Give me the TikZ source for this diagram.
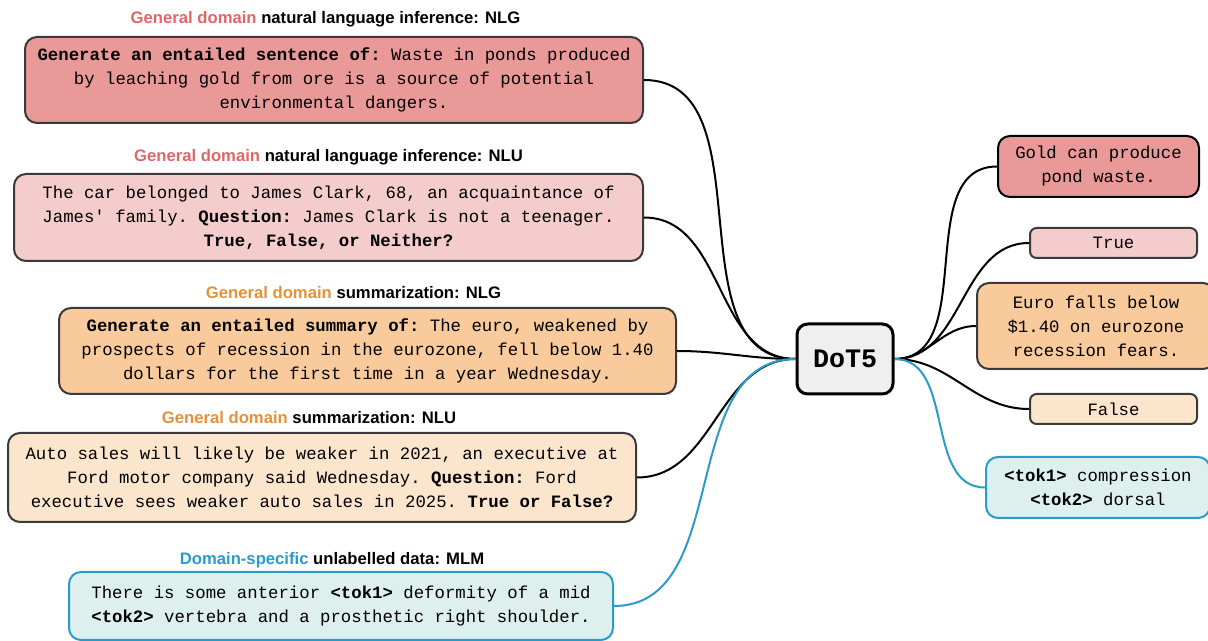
\documentclass[tikz,border=0pt]{standalone}
\usepackage{fontspec}
\setmainfont{Liberation Sans}
\setmonofont{Liberation Mono}
\definecolor{redA}{HTML}{EA9999}
\definecolor{redB}{HTML}{F4CCCC}
\definecolor{orA}{HTML}{F9CB9C}
\definecolor{orB}{HTML}{FCE5CD}
\definecolor{teal}{HTML}{DDF0EE}
\definecolor{blueln}{HTML}{2A9BCB}
\definecolor{redtx}{HTML}{E06666}
\definecolor{ortx}{HTML}{E69138}
\definecolor{edge}{HTML}{3A3A3A}
\definecolor{dotfill}{HTML}{EFEFEF}
\tikzset{
  box/.style={draw=edge, line width=1.5pt, rounded corners=9pt, inner sep=0pt, align=center,
    font=\fontsize{13}{18}\selectfont\ttfamily},
  sbox/.style={box, rounded corners=5pt},
  hdr/.style={font=\fontsize{12.5}{14}\selectfont\bfseries, inner sep=0pt},
  conn/.style={line width=1.5pt, draw=black},
  bconn/.style={line width=1.5pt, draw=blueln},
}
\begin{document}
\begin{tikzpicture}[x=0.75pt,y=-0.75pt]
\useasboundingbox (0,0) rectangle (1208,641);
% headers
\node[hdr] (h1) at (325.5,19) {\textcolor{redtx}{General domain} natural language inference: NLG};
\node[hdr] (h2) at (328.5,157) {\textcolor{redtx}{General domain} natural language inference: NLU};
\node[hdr] (h3) at (353.5,293) {\textcolor{ortx}{General domain} summarization: NLG};
\node[hdr] (h4) at (309,418) {\textcolor{ortx}{General domain} summarization: NLU};
\node[hdr] (h5) at (332,560) {\textcolor{blueln}{Domain-specific} unlabelled data: MLM};
% left boxes
\node[box, fill=redA, minimum width=463.5pt, minimum height=64.5pt] (b1) at (334,80)
  {\textbf{Generate an entailed sentence of:} Waste in ponds produced\\by leaching gold from ore is a source of potential\\environmental dangers.};
\node[box, fill=redB, minimum width=471.75pt, minimum height=65.25pt] (b2) at (328.5,217.5)
  {The car belonged to James Clark, 68, an acquaintance of\\James' family. \textbf{Question:} James Clark is not a teenager.\\\textbf{True, False, or Neither?}};
\node[box, fill=orA, minimum width=462.75pt, minimum height=64.5pt] (b3) at (367.5,351)
  {\textbf{Generate an entailed summary of:} The euro, weakened by\\prospects of recession in the eurozone, fell below 1.40\\dollars for the first time in a year Wednesday.};
\node[box, fill=orB, minimum width=471pt, minimum height=66.75pt] (b4) at (322,477.5)
  {Auto sales will likely be weaker in 2021, an executive at\\Ford motor company said Wednesday. \textbf{Question:} Ford\\executive sees weaker auto sales in 2025. \textbf{True or False?}};
\node[box, draw=blueln, fill=teal, minimum width=408pt, minimum height=51pt] (b5) at (341,606)
  {There is some anterior \textbf{<tok1>} deformity of a mid\\\textbf{<tok2>} vertebra and a prosthetic right shoulder.};
% center
\node[box, draw=black, line width=2.25pt, rounded corners=8pt, fill=dotfill, minimum width=72pt, minimum height=52.5pt,
  font=\fontsize{20}{22}\selectfont\ttfamily\bfseries] (dot) at (845,359) {DoT5};
% right boxes
\node[box, draw=black, fill=redA, minimum width=150.75pt, minimum height=45.75pt] (r1) at (1098.5,166.5)
  {Gold can produce\\pond waste.};
\node[sbox, fill=redB, minimum width=125.25pt, minimum height=22.5pt] (r2) at (1113.5,243) {True};
\node[box, fill=orA, minimum width=178.5pt, minimum height=64.5pt] (r3) at (1096,326)
  {Euro falls below\\\$1.40 on eurozone\\recession fears.};
\node[sbox, fill=orB, minimum width=125.25pt, minimum height=22.5pt] (r4) at (1113.5,409) {False};
\node[box, draw=blueln, fill=teal, minimum width=168pt, minimum height=45.75pt] (r5) at (1098,487.5)
  {\textbf{<tok1>} compression\\\textbf{<tok2>} dorsal};
% connectors
\draw[conn] (b1.east) to[out=0,in=180] (dot.west);
\draw[conn] (b2.east) to[out=0,in=180] (dot.west);
\draw[conn] (b3.east) to[out=0,in=180] (dot.west);
\draw[conn] (b4.east) to[out=0,in=180] (dot.west);
\draw[bconn] (b5.east) to[out=0,in=180] (dot.west);
\draw[conn] (dot.east) to[out=0,in=180] (r1.west);
\draw[conn] (dot.east) to[out=0,in=180] (r2.west);
\draw[conn] (dot.east) to[out=0,in=180] (r3.west);
\draw[conn] (dot.east) to[out=0,in=180] (r4.west);
\draw[bconn] (dot.east) to[out=0,in=180] (r5.west);
\end{tikzpicture}
\end{document}
